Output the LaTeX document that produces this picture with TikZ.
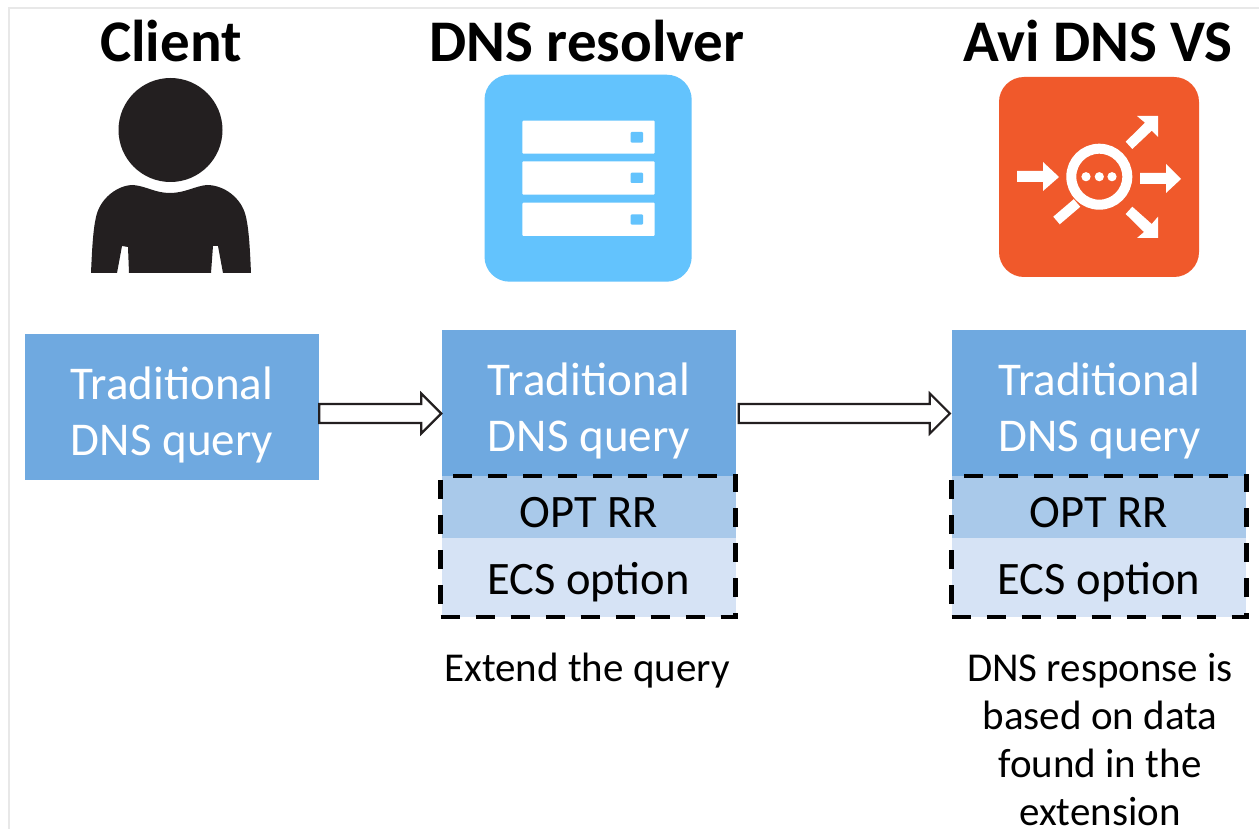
\documentclass[tikz,border=0pt]{standalone}
\usepackage{fontspec}
\setmainfont{Carlito}
\usetikzlibrary{calc}
\definecolor{boxblue}{HTML}{6FA9E0}
\definecolor{optblue}{HTML}{A9C9EA}
\definecolor{ecsblue}{HTML}{D6E3F5}
\definecolor{serverblue}{HTML}{63C3FD}
\definecolor{avired}{HTML}{F0592B}
\definecolor{personblack}{HTML}{231F20}
\definecolor{frameline}{HTML}{E8E8E8}
\tikzset{
  x=1pt,y=-1pt,
  title/.style={font=\bfseries\fontsize{59}{64}\selectfont,text=black,anchor=base,inner sep=0pt},
  querybox/.style={fill=boxblue,minimum width=294pt,minimum height=146pt,inner sep=0pt},
  querytext/.style={text=white,inner sep=0pt,align=center,font=\fontsize{47}{56}\selectfont},
  optbox/.style={fill=optblue,text=black,minimum width=294pt,minimum height=62pt,inner sep=0pt,font=\fontsize{46.5}{50}\selectfont,text height=41pt,text depth=0pt},
  ecsbox/.style={fill=ecsblue,text=black,minimum width=294pt,minimum height=79pt,inner sep=0pt,font=\fontsize{46.5}{50}\selectfont,text height=38pt,text depth=4pt},
  dashbox/.style={draw=black,line width=4.4pt,dash pattern=on 19pt off 16pt,inner sep=0pt,minimum width=295pt,minimum height=141pt},
  note/.style={align=center,text=black,inner sep=0pt,font=\fontsize{41}{48}\selectfont},
  hollow/.style={draw=personblack,fill=white,line width=2.2pt,line join=miter},
  iconwhite/.style={fill=white,draw=none}
}
\newcommand{\hollowarrow}[2]{%
  \draw[hollow] let \p1=(#1),\p2=(#2) in
    (\x1,\y1+9.5pt) -- (\x2-20pt,\y1+9.5pt) -- (\x2-20pt,\y1+20pt) -- (\x2,\y1) --
    (\x2-20pt,\y1-20pt) -- (\x2-20pt,\y1-9.5pt) -- (\x1,\y1-9.5pt) -- cycle;}
\begin{document}
\begin{tikzpicture}
\useasboundingbox (0,0) rectangle (1259,829);
\fill[white] (0,0) rectangle (1259,829);
\draw[frameline,line width=1.2pt] (9,829) -- (9,8) -- (1259,8);

% titles
\node[title] (tclient) at (171,62) {Client};
\node[title] (tres) at (587,62) {DNS resolver};
\node[title] (tavi) at (1098,62) {Avi DNS VS};

% person
\fill[personblack] (170.5,130) circle (52);
\fill[personblack] (91,273) .. controls (92,250) and (93,230) .. (96,217)
  .. controls (100,198) and (118,185) .. (133,185)
  .. controls (146,186) and (155,193) .. (170,193)
  .. controls (185,193) and (195,186) .. (207,185)
  .. controls (224,185) and (242,198) .. (246,217)
  .. controls (249,230) and (250,250) .. (251,273)
  -- (223,273) -- (218,246) -- (213,246) -- (211,273)
  -- (129,273) -- (128,247) -- (122,246) -- (117,273) -- cycle;

% server icon
\fill[serverblue,rounded corners=25pt] (484.5,74.7) rectangle (691.7,281.7);
\foreach \a/\b/\c/\d in {120.7/153.7/132/142.7,161.3/194.7/172.7/183,202.7/236/214.3/224.7}{
  \fill[iconwhite,rounded corners=1pt] (522.3,\a) rectangle (654.7,\b);
  \fill[serverblue,rounded corners=1pt] (630.7,\c) rectangle (643,\d);
}

% avi icon
\fill[avired,rounded corners=25pt] (999,77) rectangle (1199,277);
\draw[white,line width=10pt] (1099.3,176.7) circle (28);
\draw[white,line width=10pt] (1077,203) -- (1056.5,220.5);
\foreach \x in {1086,1099.3,1112}{\fill[white] (\x,176.7) circle (4.6);}
\fill[iconwhite] (1017,171) -- (1043,171) -- (1043,162) -- (1059,177) -- (1043,191) -- (1043,182) -- (1017,182) -- cycle;
\fill[iconwhite] (1140,173) -- (1166,173) -- (1166,164) -- (1181,179) -- (1166,193) -- (1166,184) -- (1140,184) -- cycle;
\fill[iconwhite] (1125.7,141.7) -- (1145,122.7) -- (1137,116) -- (1158,116) -- (1158,137) -- (1151.7,130.7) -- (1132.3,149) -- cycle;
\fill[iconwhite] (1125.7,214) -- (1144,232) -- (1137,238) -- (1158,238) -- (1158,216.7) -- (1151.7,224) -- (1132.3,206.7) -- cycle;

% boxes
\node[querybox] (qclient) at (172,406.5) {};
\node[querybox] (qres) at (588.5,403) {};
\node[querybox] (qavi) at (1099,403) {};
\node[querytext] (lclient) at (172,414.5) {Traditional\\DNS query};
\node[querytext] (lres) at (589,411) {Traditional\\DNS query};
\node[querytext] (lavi) at (1099.5,411) {Traditional\\DNS query};
\node[optbox] (ores) at (588.5,507) {OPT RR};
\node[ecsbox] (eres) at (588.5,577.5) {ECS option};
\node[optbox] (oavi) at (1099,507) {OPT RR};
\node[ecsbox] (eavi) at (1099,577.5) {ECS option};
\node[dashbox] (dres) at (588,546.5) {};
\node[dashbox] (davi) at (1099,546.5) {};

% arrows
\coordinate (a1s) at (qclient.east |- 0,413.5);
\coordinate (a1e) at (qres.west |- 0,413.5);
\coordinate (a2s) at ($(qres.east |- 0,413.5)+(3,0)$);
\coordinate (a2e) at ($(qavi.west |- 0,413.5)+(-2,0)$);
\hollowarrow{a1s}{a1e}
\hollowarrow{a2s}{a2e}

% notes
\node[note] (nres) at (587,671) {Extend the query};
\node[note] (navi) at (1100,739.5) {DNS response is\\based on data\\found in the\\extension};
\end{tikzpicture}
\end{document}
